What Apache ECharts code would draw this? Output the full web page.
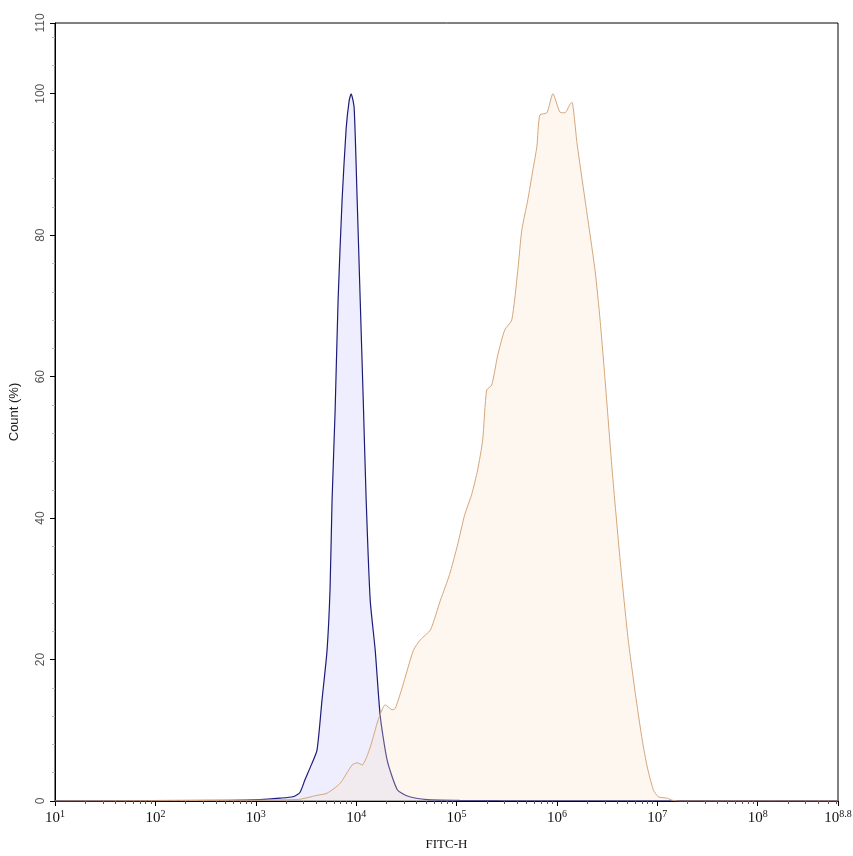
<!DOCTYPE html>
<html><head><meta charset="utf-8">
<script src="https://cdn.jsdelivr.net/npm/echarts@6/dist/echarts.min.js"></script>
<style>html,body{margin:0;padding:0;background:#fff}#c{width:853px;height:856px}</style>
</head><body><div id="c"></div>
<script>
// x values are log10(FITC-H)
const blueLog = [1.0, 2.74, 3.04, 3.24, 3.37, 3.44, 3.49, 3.55, 3.61, 3.66, 3.71, 3.74, 3.76, 3.79, 3.82, 3.86, 3.90, 3.93, 3.95, 3.98, 4.01, 4.04, 4.07, 4.10, 4.14, 4.19, 4.24, 4.31, 4.41, 4.51, 4.71, 5.03, 5.43, 8.8];
const blueVal = [0, 0.1, 0.2, 0.4, 0.6, 1.2, 3.0, 5.0, 7.2, 14.3, 21.3, 30, 42.5, 55, 70.8, 85, 95, 99, 100, 98, 85, 71, 57, 42.5, 28.4, 21.3, 12, 5.7, 1.6, 0.7, 0.2, 0.1, 0.05, 0];

const orangeLog = [1.0, 3.41, 3.61, 3.71, 3.84, 3.96, 4.01, 4.06, 4.14, 4.22, 4.29, 4.36, 4.39, 4.46, 4.57, 4.64, 4.74, 4.84, 4.93, 5.01, 5.08, 5.15, 5.21, 5.26, 5.30, 5.35, 5.41, 5.48, 5.55, 5.61, 5.65, 5.71, 5.76, 5.80, 5.83, 5.90, 5.96, 6.03, 6.08, 6.13, 6.15, 6.20, 6.28, 6.38, 6.43, 6.48, 6.55, 6.63, 6.71, 6.79, 6.85, 6.90, 6.96, 7.01, 7.10, 7.15, 7.23, 8.8];
const orangeVal = [0, 0.2, 0.8, 1.1, 2.5, 5.1, 5.4, 5.1, 7.6, 11.5, 13.6, 12.9, 13.1, 16.1, 21.3, 22.8, 24.2, 28.4, 32, 36.2, 40.4, 43.3, 46.8, 51, 58.1, 58.8, 63, 66.6, 68, 75, 80.7, 85, 89.2, 92.5, 97, 97.3, 100, 97.4, 97.3, 98.5, 98.8, 93, 85, 75, 68, 59.5, 46.8, 34, 22.8, 14.3, 8.6, 4.8, 1.6, 0.6, 0.4, 0.1, 0, 0];

const xMajorTicks = [1, 2, 3, 4, 5, 6, 7, 8, 8.8];
const xTickLabels = ['1', '2', '3', '4', '5', '6', '7', '8', '8.8'];
const yMajorTicks = [0, 20, 40, 60, 80, 100, 110];

const xMinorTicks = [];
for (let d = 1; d <= 8; d++) for (let k = 2; k <= 9; k++) { const v = d + Math.log10(k); if (v < 8.8) xMinorTicks.push(v); }
const yMinorTicks = [];
for (let v = 4; v < 110; v += 4) if (v % 20 !== 0) yMinorTicks.push(v);

const chart = echarts.init(document.getElementById('c'), null, {renderer: 'canvas'});
const serif = '"Liberation Serif", "DejaVu Serif", serif';
const sans = '"Liberation Sans", Arial, sans-serif';
chart.setOption({
  animation: false,
  backgroundColor: '#fff',
  grid: {left: 55, right: 15, top: 23, bottom: 55, containLabel: false, outerBoundsMode: 'none', show: true, borderColor: '#000', borderWidth: 1, backgroundColor: 'transparent'},
  xAxis: [{
    type: 'value', min: 1, max: 8.8,
    name: 'FITC-H', nameLocation: 'middle', nameGap: 37,
    nameTextStyle: {fontFamily: serif, fontSize: 13, color: '#111'},
    axisLine: {lineStyle: {color: '#000', width: 1}},
    axisTick: {show: true, length: 5, lineStyle: {color: '#000'}, customValues: xMajorTicks},
    axisLabel: {
      customValues: xMajorTicks, margin: 8,
      fontFamily: serif, fontSize: 15, color: '#111',
      formatter: function (v) { const i = xMajorTicks.indexOf(v); return '10{s|' + (i >= 0 ? xTickLabels[i] : v) + '}'; },
      rich: {s: {fontFamily: serif, fontSize: 10, color: '#111', padding: [0, 0, 9, 0]}}
    },
    splitLine: {show: false}
  }, {
    type: 'value', min: 1, max: 8.8, position: 'bottom', gridIndex: 0,
    axisLine: {show: false},
    axisTick: {show: true, length: 3, lineStyle: {color: '#555'}, customValues: xMinorTicks},
    axisLabel: {show: false}, splitLine: {show: false}
  }],
  yAxis: [{
    type: 'value', min: 0, max: 110,
    name: 'Count (%)', nameLocation: 'middle', nameGap: 34, nameRotate: 90,
    nameTextStyle: {fontFamily: sans, fontSize: 13, color: '#222'},
    axisLine: {show: true, lineStyle: {color: '#000', width: 1}},
    axisTick: {show: true, length: 5, lineStyle: {color: '#000'}, customValues: yMajorTicks},
    axisLabel: {customValues: yMajorTicks, rotate: 90, margin: 8, fontFamily: sans, fontSize: 12, color: '#555'},
    splitLine: {show: false}
  }, {
    type: 'value', min: 0, max: 110, position: 'left',
    axisLine: {show: false},
    axisTick: {show: true, length: 3, lineStyle: {color: '#bbb'}, customValues: yMinorTicks},
    axisLabel: {show: false}, splitLine: {show: false}
  }],
  series: [{
    type: 'line', name: 'control', symbol: 'none', smooth: 0.2,
    data: blueLog.map((x, i) => [x, blueVal[i]]),
    lineStyle: {color: '#1c1c78', width: 1.2},
    areaStyle: {color: 'rgba(190,190,250,0.38)'},
    z: 3
  }, {
    type: 'line', name: 'sample', symbol: 'none', smooth: 0.2,
    data: orangeLog.map((x, i) => [x, orangeVal[i]]),
    lineStyle: {color: '#d4a67a', width: 1},
    areaStyle: {color: 'rgba(252,228,200,0.4)'},
    z: 4
  }]
});
</script></body></html>
